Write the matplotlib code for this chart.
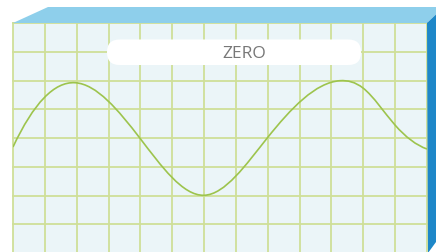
import matplotlib
matplotlib.use("Agg")
import matplotlib.pyplot as plt
from matplotlib.path import Path
from matplotlib.patches import PathPatch, Polygon, FancyBboxPatch
import numpy as np

# ---- data (grid units: x = columns, y = rows from bottom) ----
x_vals = [0.0, 1.947, 3.988, 5.998, 7.976, 10.268, 10.990, 11.995, 13.0]
y_vals = [3.687, 5.923, 3.99, 2.007, 3.99, 5.993, 5.739, 4.452, 3.617]
label_text = "ZERO"
n_cols = 13
n_rows = 8

W, H = 436, 252
fig = plt.figure(figsize=(W / 100, H / 100), dpi=100)
fig.patch.set_facecolor("white")

# front face
L, R, T, B = 13, 427, 23, 253
ax = fig.add_axes([L / W, 1 - B / H, (R - L) / W, (B - T) / H])
ax.set_facecolor("#EBF5F8")
ax.set_xlim(0, n_cols)
ax.set_ylim(0, n_rows)
grid_col = "#CFDF98"
for i in range(n_cols + 1):
    ax.axvline(i, color=grid_col, lw=1.3, zorder=1, clip_on=False)
for j in range(n_rows + 1):
    ax.axhline(j, color=grid_col, lw=1.3, zorder=1, clip_on=False)
for s in ax.spines.values():
    s.set_visible(False)
ax.set_xticks([])
ax.set_yticks([])

# cubic spline (parabolic run-out ends) through the data, drawn as Bezier segments
xs = np.asarray(x_vals, float)
ys = np.asarray(y_vals, float)
n = len(xs)
h = np.diff(xs)
A = np.zeros((n, n))
rhs = np.zeros(n)
A[0, 0], A[0, 1] = 1.0, -1.0
A[-1, -1], A[-1, -2] = 1.0, -1.0
for i in range(1, n - 1):
    A[i, i - 1] = h[i - 1]
    A[i, i] = 2 * (h[i - 1] + h[i])
    A[i, i + 1] = h[i]
    rhs[i] = 6 * ((ys[i + 1] - ys[i]) / h[i] - (ys[i] - ys[i - 1]) / h[i - 1])
M = np.linalg.solve(A, rhs)
verts = [(xs[0], ys[0])]
codes = [Path.MOVETO]
for i in range(n - 1):
    sec = (ys[i + 1] - ys[i]) / h[i]
    d0 = sec - h[i] * (2 * M[i] + M[i + 1]) / 6
    d1 = sec + h[i] * (M[i] + 2 * M[i + 1]) / 6
    k = h[i] / 3.0
    verts += [(xs[i] + k, ys[i] + d0 * k), (xs[i + 1] - k, ys[i + 1] - d1 * k),
              (xs[i + 1], ys[i + 1])]
    codes += [Path.CURVE4] * 3
ax.add_patch(PathPatch(Path(verts, codes), facecolor="none",
                       edgecolor="#9DC44D", lw=1.2, zorder=3))

# overlay for 3D faces and label
ov = fig.add_axes([0, 0, 1, 1], zorder=5)
ov.set_xlim(0, W)
ov.set_ylim(H, 0)
ov.axis("off")
ov.patch.set_visible(False)
ov.add_patch(Polygon([(13, 23), (48, 7), (436, 7), (436, 14.5), (427, 23)],
                     closed=True, facecolor="#8ECFEB", edgecolor="none"))
ov.add_patch(Polygon([(427, 23), (436, 14.5), (436, 242), (428, 253)],
                     closed=True, facecolor="#1E87C8", edgecolor="none"))
bx0, bx1, by0, by1 = 107, 361, 39.5, 65
ov.add_patch(FancyBboxPatch((bx0, by0), bx1 - bx0, by1 - by0,
                            boxstyle="round,pad=0,rounding_size=12.5",
                            facecolor="white", edgecolor="none"))
ov.text(244, 54, label_text, ha="center", va="center", fontsize=12.5,
        color="#777777", family=["Open Sans", "DejaVu Sans"])

fig.savefig("out.png", dpi=100)
